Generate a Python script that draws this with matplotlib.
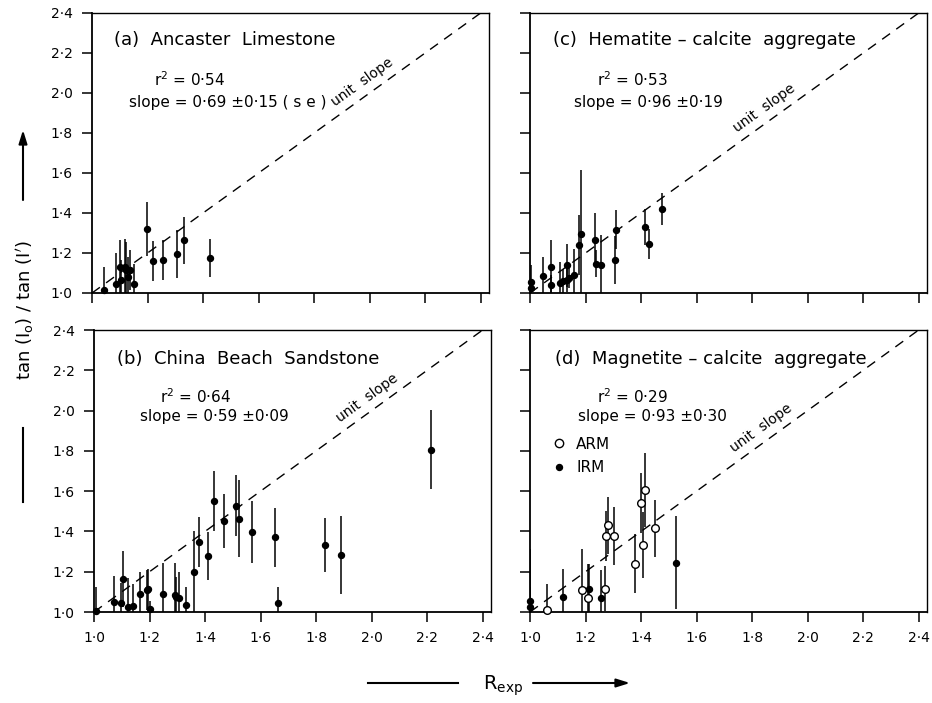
import numpy as np
import matplotlib
matplotlib.use("Agg")
import matplotlib.pyplot as plt
from matplotlib.ticker import FuncFormatter
from matplotlib.lines import Line2D

plt.rcParams['font.family'] = ['DejaVu Sans']
plt.rcParams['mathtext.fontset'] = 'dejavusans'

# ---------------- data ----------------
# (a) Ancaster Limestone
a_x = [1.045, 1.086, 1.100, 1.104, 1.118, 1.124, 1.130, 1.136, 1.151, 1.199, 1.219, 1.255, 1.307, 1.331, 1.424]
a_y = [1.017, 1.043, 1.130, 1.067, 1.130, 1.113, 1.080, 1.113, 1.043, 1.322, 1.158, 1.167, 1.197, 1.263, 1.175]
a_e = [0.115, 0.155, 0.137, 0.100, 0.140, 0.140, 0.100, 0.100, 0.100, 0.135, 0.100, 0.100, 0.120, 0.118, 0.095]

# (b) China Beach Sandstone
b_x = [1.006, 1.072, 1.098, 1.103, 1.121, 1.139, 1.167, 1.190, 1.193, 1.202, 1.248, 1.290, 1.296, 1.306,
       1.332, 1.362, 1.380, 1.411, 1.434, 1.469, 1.512, 1.522, 1.568, 1.652, 1.662, 1.833, 1.888, 2.214]
b_y = [1.005, 1.050, 1.043, 1.163, 1.027, 1.030, 1.088, 1.109, 1.113, 1.017, 1.088, 1.083, 1.076, 1.071,
       1.033, 1.201, 1.348, 1.279, 1.552, 1.453, 1.527, 1.464, 1.398, 1.370, 1.043, 1.332, 1.282, 1.806]
b_e = [0.120, 0.130, 0.100, 0.140, 0.140, 0.110, 0.110, 0.100, 0.100, 0.040, 0.155, 0.160, 0.100, 0.130,
       0.090, 0.200, 0.125, 0.120, 0.150, 0.133, 0.152, 0.190, 0.153, 0.145, 0.083, 0.135, 0.195, 0.197]

# (c) Hematite - calcite aggregate
c_x = [1.002, 1.002, 1.046, 1.075, 1.075, 1.108, 1.120, 1.133, 1.133, 1.140, 1.160, 1.178, 1.184,
       1.234, 1.239, 1.257, 1.305, 1.308, 1.416, 1.427, 1.477]
c_y = [1.055, 1.027, 1.083, 1.130, 1.038, 1.050, 1.058, 1.138, 1.067, 1.077, 1.088, 1.242, 1.297,
       1.267, 1.147, 1.138, 1.167, 1.317, 1.330, 1.247, 1.418]
c_e = [0.083, 0.030, 0.097, 0.133, 0.050, 0.105, 0.060, 0.109, 0.060, 0.050, 0.130, 0.150, 0.320,
       0.133, 0.067, 0.150, 0.120, 0.096, 0.092, 0.075, 0.080]

# (d) Magnetite - calcite aggregate
d_irm_x = [1.000, 1.000, 1.118, 1.214, 1.257, 1.527]
d_irm_y = [1.055, 1.025, 1.075, 1.116, 1.070, 1.245]
d_irm_e = [0.260, 0.100, 0.140, 0.124, 0.137, 0.230]
d_arm_x = [1.061, 1.187, 1.208, 1.271, 1.275, 1.282, 1.301, 1.377, 1.399, 1.407, 1.416, 1.449]
d_arm_y = [1.008, 1.108, 1.070, 1.116, 1.376, 1.430, 1.376, 1.240, 1.539, 1.332, 1.605, 1.415]
d_arm_e = [0.133, 0.207, 0.170, 0.113, 0.125, 0.140, 0.143, 0.147, 0.149, 0.163, 0.182, 0.141]

panel_titles = ["(a)  Ancaster  Limestone", "(b)  China  Beach  Sandstone",
                "(c)  Hematite \u2013 calcite  aggregate", "(d)  Magnetite \u2013 calcite  aggregate"]
r2_texts = ["0\u00b754", "0\u00b764", "0\u00b753", "0\u00b729"]
slope_texts = ["0\u00b769 \u00b10\u00b715 ( s e )", "0\u00b759 \u00b10\u00b709",
               "0\u00b796 \u00b10\u00b719", "0\u00b793 \u00b10\u00b730"]
xticks = [1.0, 1.2, 1.4, 1.6, 1.8, 2.0, 2.2, 2.4]
yticks = [1.0, 1.2, 1.4, 1.6, 1.8, 2.0, 2.2, 2.4]
unit_line = [1.0, 2.4]

# ---------------- layout ----------------
W, H = 932, 703
fig = plt.figure(figsize=(W / 100, H / 100), dpi=100)

def rect(l, r, t, b):
    return [l / W, 1 - b / H, (r - l) / W, (b - t) / H]

ax_a = fig.add_axes(rect(92, 489, 13, 293))
ax_c = fig.add_axes(rect(530, 927, 13, 293))
ax_b = fig.add_axes(rect(94, 491, 330, 612))
ax_d = fig.add_axes(rect(530, 927, 330, 612))

fmt = FuncFormatter(lambda v, p: f"{v:.1f}".replace('.', '\u00b7'))
XMAX = 2.43

for ax in (ax_a, ax_b, ax_c, ax_d):
    ax.set_xlim(1.0, XMAX)
    ax.set_ylim(1.0, 2.4)
    ax.set_xticks(xticks)
    ax.set_yticks(yticks)
    ax.xaxis.set_major_formatter(fmt)
    ax.yaxis.set_major_formatter(fmt)
    ax.tick_params(direction='out', length=7, width=1.1, labelsize=10, pad=7, color='black')
    ax.spines['left'].set_linewidth(1.3)
    ax.spines['bottom'].set_linewidth(1.3)
    ax.spines['top'].set_linewidth(1.0)
    ax.spines['right'].set_linewidth(1.0)
    ax.plot(unit_line, unit_line, color='black', lw=1.0, dashes=(7, 5.5), zorder=1)

for ax in (ax_a, ax_c):
    ax.tick_params(labelbottom=False)
for ax in (ax_c, ax_d):
    ax.tick_params(labelleft=False)

def draw(ax, x, y, e, open_marker=False):
    ax.errorbar(x, y, yerr=e, fmt='none', ecolor='black', elinewidth=1.1, capsize=0, zorder=2)
    if open_marker:
        ax.plot(x, y, 'o', ms=5.5, mfc='white', mec='black', mew=1.0, ls='none', zorder=4, clip_on=False)
    else:
        ax.plot(x, y, 'o', ms=4.3, color='black', ls='none', zorder=3, clip_on=False)

draw(ax_a, a_x, a_y, a_e)
draw(ax_b, b_x, b_y, b_e)
draw(ax_c, c_x, c_y, c_e)
draw(ax_d, d_irm_x, d_irm_y, d_irm_e)
draw(ax_d, d_arm_x, d_arm_y, d_arm_e, open_marker=True)

# texts
title_pos = {ax_a: (0.056, 0.904), ax_b: (0.059, 0.897), ax_c: (0.059, 0.904), ax_d: (0.062, 0.897)}
r2_pos = {ax_a: (0.245, 0.761), ax_b: (0.257, 0.762), ax_c: (0.257, 0.761), ax_d: (0.258, 0.762)}
sl_pos = {ax_a: (0.342, 0.679), ax_b: (0.303, 0.695), ax_c: (0.299, 0.679), ax_d: (0.309, 0.695)}
us_pos = {ax_a: 2.0, ax_b: 2.01, ax_c: 1.87, ax_d: 1.86}

for i, ax in enumerate((ax_a, ax_b, ax_c, ax_d)):
    tx, ty = title_pos[ax]
    ax.text(tx, ty, panel_titles[i], transform=ax.transAxes, fontsize=13, ha='left', va='center')
    rx, ry = r2_pos[ax]
    ax.text(rx, ry, "r$^{2}$ = " + r2_texts[i], transform=ax.transAxes, fontsize=11, ha='center', va='center')
    sx, sy = sl_pos[ax]
    ax.text(sx, sy, "slope = " + slope_texts[i], transform=ax.transAxes, fontsize=11, ha='center', va='center')
    bb = ax.get_position()
    wpx = bb.width * W / (XMAX - 1.0)
    hpx = bb.height * H / 1.4
    ang = np.degrees(np.arctan2(hpx, wpx))
    u = us_pos[ax]
    ax.annotate("unit  slope", xy=(u, u), xytext=(-2.5, 3.5), textcoords='offset points',
                rotation=ang, rotation_mode='anchor', ha='center', va='bottom', fontsize=10)

# legend in (d)
h_arm = Line2D([], [], marker='o', ls='none', ms=6, mfc='white', mec='black', mew=1.0)
h_irm = Line2D([], [], marker='o', ls='none', ms=4.3, color='black')
ax_d.legend([h_arm, h_irm], ["ARM", "IRM"], loc='upper left', bbox_to_anchor=(0.02, 0.67),
            frameon=False, fontsize=11, handlelength=1.0, handletextpad=0.6, labelspacing=0.55)

# axis labels with arrows
fig.text(25 / W, 1 - 310 / H, r"tan (I$_\mathrm{o}$) / tan (I$^{\prime}$)", rotation=90,
         ha='center', va='center', fontsize=13)
fig.add_artist(Line2D([23 / W, 23 / W], [1 - 428 / H, 1 - 502 / H], color='black', lw=1.5,
                      transform=fig.transFigure))
fig.add_artist(plt.Annotation("", xy=(23 / W, 1 - 130 / H), xytext=(23 / W, 1 - 200 / H),
                              xycoords='figure fraction',
                              arrowprops=dict(arrowstyle='-|>,head_length=0.8,head_width=0.25',
                                              lw=1.5, color='black', shrinkA=0, shrinkB=0)))

fig.text(503 / W, 1 - 686 / H, r"R$_\mathrm{exp}$", ha='center', va='center', fontsize=14)
fig.add_artist(Line2D([368 / W, 458 / W], [1 - 683 / H, 1 - 683 / H], color='black', lw=1.5,
                      transform=fig.transFigure))
fig.add_artist(plt.Annotation("", xy=(630 / W, 1 - 683 / H), xytext=(533 / W, 1 - 683 / H),
                              xycoords='figure fraction',
                              arrowprops=dict(arrowstyle='-|>,head_length=0.8,head_width=0.25',
                                              lw=1.5, color='black', shrinkA=0, shrinkB=0)))

fig.savefig("out.png", dpi=100)
